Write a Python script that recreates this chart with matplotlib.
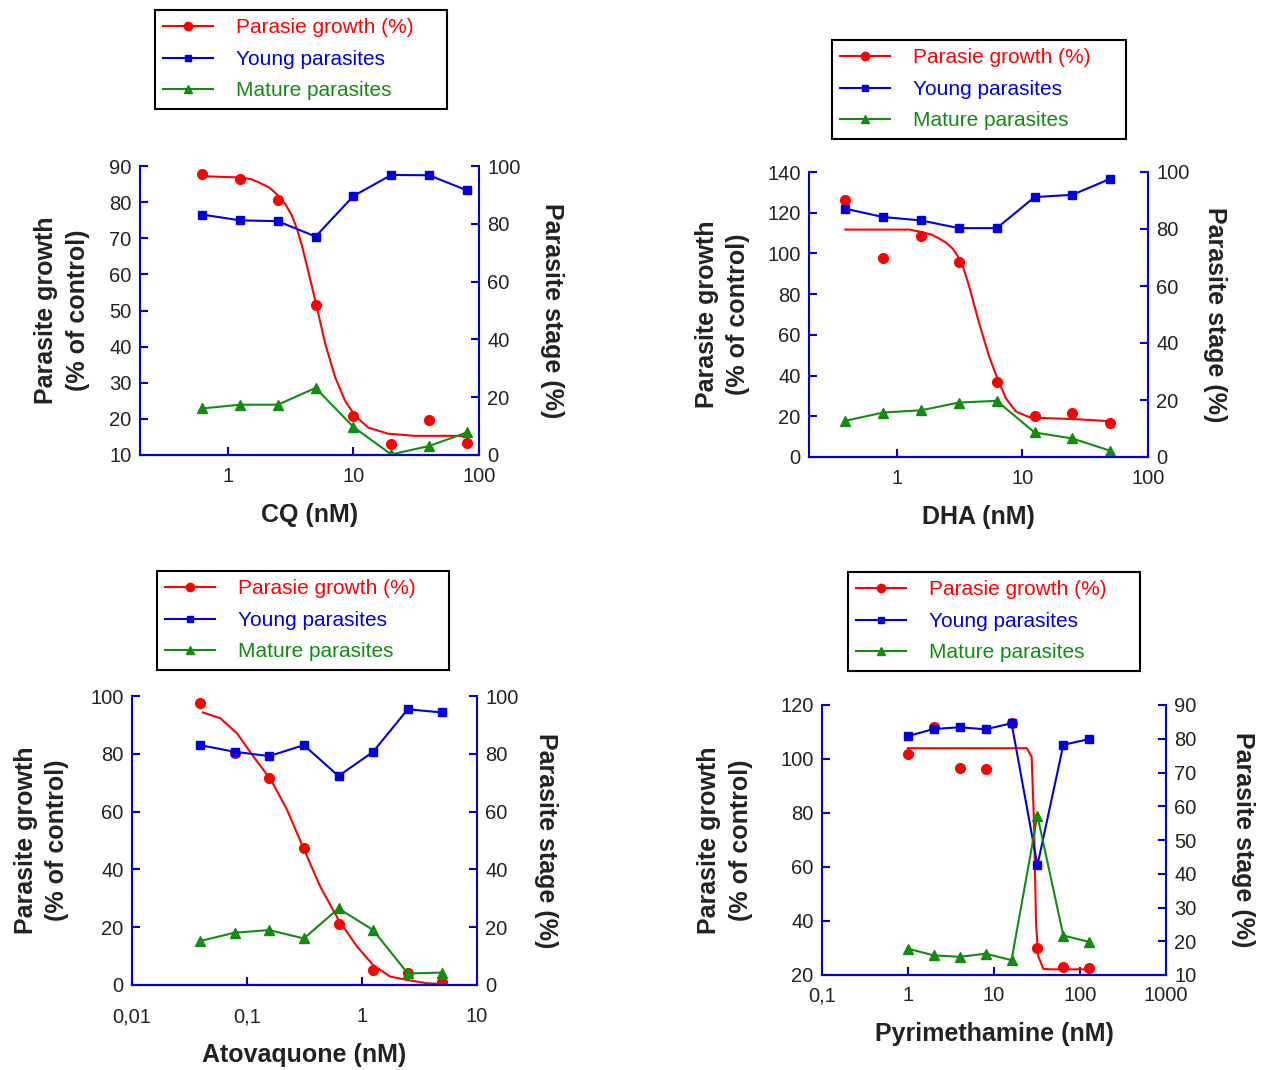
import numpy as np
import matplotlib.pyplot as plt
from matplotlib.lines import Line2D
from matplotlib.ticker import FixedLocator, NullLocator

plt.rcParams['font.family'] = ['Liberation Sans', 'DejaVu Sans']

# ---- CQ panel ----
cq_conc = [0.625, 1.25, 2.5, 5, 10, 20, 40, 80]
cq_growth = [87.7, 86.3, 80.7, 51.5, 20.9, 13.0, 19.7, 13.4]
cq_young = [83.2, 81.2, 80.9, 75.6, 89.6, 96.9, 96.8, 91.6]
cq_mature = [16.1, 17.4, 17.4, 23.2, 9.7, 0.2, 3.1, 7.8]
cq_fit_x = [0.624, 1.28, 1.55, 1.78, 2.15, 2.56, 2.9, 3.26, 3.6, 3.91, 4.41, 5.04, 5.97,
            7.16, 8.59, 10.3, 13.1, 18.9, 30.7, 82.4]
cq_fit_y = [87.2, 86.8, 86.3, 85.4, 84.0, 81.6, 79.2, 76.1, 72.0, 67.7, 60.3, 51.9, 40.8,
            31.5, 25.0, 20.9, 17.6, 15.9, 15.3, 15.3]

# ---- DHA panel ----
dha_conc = [0.39, 0.78, 1.56, 3.125, 6.25, 12.5, 25, 50]
dha_growth = [126.4, 98.0, 108.4, 95.8, 36.6, 19.9, 21.6, 16.7]
dha_young = [87.1, 84.2, 83.0, 80.3, 80.3, 91.2, 92.0, 97.6]
dha_mature = [12.7, 15.6, 16.4, 19.1, 19.7, 8.6, 6.5, 2.2]
dha_fit_x = [0.39, 1.26, 1.58, 1.9, 2.18, 2.5, 2.78, 3.05, 3.34, 3.78, 4.53, 5.44, 6.38,
             7.38, 8.86, 11.3, 15.3, 26.2, 52.7]
dha_fit_y = [111.7, 111.7, 110.5, 109.2, 107.3, 105.0, 102.4, 98.8, 94.2, 83.6, 65.6, 49.3,
             37.9, 28.9, 22.4, 19.6, 19.1, 18.6, 17.5]

# ---- Atovaquone panel ----
ato_conc = [0.039, 0.078, 0.156, 0.3125, 0.625, 1.25, 2.5, 5]
ato_growth = [97.7, 80.4, 71.7, 47.5, 21.0, 5.2, 4.0, 1.2]
ato_young = [83.0, 80.7, 79.2, 83.0, 72.3, 80.7, 95.4, 94.3]
ato_mature = [15.2, 18.1, 19.0, 16.1, 26.5, 19.0, 4.0, 4.3]
ato_fit_x = [0.0414, 0.0586, 0.0818, 0.114, 0.162, 0.223, 0.315, 0.434, 0.626, 0.906,
             1.25, 1.76, 2.51, 3.67, 5.06]
ato_fit_y = [94.3, 92.3, 87.1, 79.0, 70.9, 60.6, 46.7, 34.0, 22.5, 13.3, 6.9, 2.9, 1.7,
             0.6, 0.3]

# ---- Pyrimethamine panel ----
pyr_conc = [1, 2, 4, 8, 16, 32, 64, 128]
pyr_growth = [101.8, 111.7, 96.6, 96.2, 113.2, 30.1, 23.1, 22.7]
pyr_young = [80.8, 82.9, 83.4, 82.8, 84.6, 42.5, 78.2, 79.9]
pyr_mature = [17.8, 15.8, 15.4, 16.3, 14.4, 57.2, 21.7, 19.8]
pyr_fit_x = [1, 24.0, 27.4, 29.2, 30.8, 32.7, 37.4, 44.8, 128]
pyr_fit_y = [104.0, 104.0, 100.9, 76.3, 39.3, 27.0, 22.3, 22.1, 22.1]

RED = '#ff0000'
BLUE = '#0000e0'
GREEN = '#118c11'
AXC = '#0000dd'
TXT = '#222222'

W, H = 1271, 1070
fig = plt.figure(figsize=(W / 100, H / 100), dpi=100)


def px_axes(l, t, r, b):
    return fig.add_axes([l / W, 1 - b / H, (r - l) / W, (b - t) / H])


def panel(box, xlim, xticks, xticklabels, ylim, yticks, y2lim, y2ticks, xlabel,
          conc, growth, young, mature, fit_x, fit_y, legbox, pads):
    ylpad, y2pad, xtpad = pads
    ax = px_axes(*box)
    ax.set_xscale('log')
    ax.plot(fit_x, fit_y, color=RED, lw=1.5, zorder=2)
    ax.plot(conc, growth, 'o', color=RED, ms=7, zorder=3)
    ax.set_xlim(*xlim)
    ax.set_ylim(*ylim)
    ax.xaxis.set_major_locator(FixedLocator(xticks))
    ax.xaxis.set_minor_locator(NullLocator())
    ax.set_xticklabels(xticklabels)
    ax.set_yticks(yticks)

    ax2 = ax.twinx()
    ax2.plot(conc, young, '-s', color=BLUE, ms=6, lw=1.5)
    ax2.plot(conc, mature, '-^', color=GREEN, ms=7, lw=1.5)
    ax2.set_ylim(*y2lim)
    ax2.set_yticks(y2ticks)
    ax2.xaxis.set_minor_locator(NullLocator())

    for a in (ax, ax2):
        a.spines['top'].set_visible(False)
        for s in ('left', 'right', 'bottom'):
            a.spines[s].set_color(AXC)
            a.spines[s].set_linewidth(1.5)
        a.tick_params(direction='in', color=AXC, length=6, width=1.5,
                      labelsize=14.5, labelcolor=TXT, pad=6)
    ax.tick_params(axis='x', pad=xtpad)
    ax.spines['right'].set_visible(False)
    ax2.spines['left'].set_visible(False)

    ax.set_ylabel('Parasite growth\n(% of control)', fontsize=18, fontweight='bold',
                  labelpad=ylpad, color=TXT, linespacing=1.4)
    ax2.set_ylabel('Parasite stage (%)', fontsize=18, fontweight='bold',
                   rotation=270, labelpad=y2pad, color=TXT)
    ax.set_xlabel(xlabel, fontsize=18, fontweight='bold', labelpad=12, color=TXT)

    handles = [
        Line2D([], [], color=RED, marker='o', ms=6, lw=1.5),
        Line2D([], [], color=BLUE, marker='s', ms=5, lw=1.5),
        Line2D([], [], color=GREEN, marker='^', ms=6, lw=1.5),
    ]
    l, t, r, b = legbox
    leg = fig.legend(handles, ['Parasie growth (%)', 'Young parasites', 'Mature parasites'],
                     loc='upper left', bbox_to_anchor=(l / W, 1 - b / H, (r - l) / W, (b - t) / H),
                     bbox_transform=fig.transFigure, mode='expand', borderaxespad=0,
                     fontsize=15, labelspacing=0.6, handlelength=2.4, handletextpad=1.1,
                     borderpad=0.4, fancybox=False, edgecolor='black', framealpha=1)
    leg.get_frame().set_linewidth(1.5)
    for txt, c in zip(leg.get_texts(), (RED, BLUE, GREEN)):
        txt.set_color(c)


panel((140, 166, 479, 455), (0.2, 100), [1, 10, 100], ['1', '10', '100'],
      (10, 90), range(10, 91, 10), (0, 100), range(0, 101, 20), 'CQ (nM)',
      cq_conc, cq_growth, cq_young, cq_mature, cq_fit_x, cq_fit_y, (155, 10, 447, 115),
      (14, 31, 9))

panel((809, 172, 1148, 457), (0.2, 100), [1, 10, 100], ['1', '10', '100'],
      (0, 140), range(0, 141, 20), (0, 100), range(0, 101, 20), 'DHA (nM)',
      dha_conc, dha_growth, dha_young, dha_mature, dha_fit_x, dha_fit_y, (832, 40, 1126, 146),
      (12, 27, 9))

panel((132, 696, 477, 985), (0.01, 10), [0.01, 0.1, 1, 10], ['0,01', '0,1', '1', '10'],
      (0, 100), range(0, 101, 20), (0, 100), range(0, 101, 20), 'Atovaquone (nM)',
      ato_conc, ato_growth, ato_young, ato_mature, ato_fit_x, ato_fit_y, (157, 571, 449, 676),
      (15, 28, 16))

panel((822, 705, 1166, 975), (0.1, 1000), [0.1, 1, 10, 100, 1000], ['0,1', '1', '10', '100', '1000'],
      (20, 120), range(20, 121, 20), (10, 90), range(10, 91, 10), 'Pyrimethamine (nM)',
      pyr_conc, pyr_growth, pyr_young, pyr_mature, pyr_fit_x, pyr_fit_y, (848, 572, 1140, 678),
      (20, 42, 8))

fig.savefig('out.png', dpi=100)
